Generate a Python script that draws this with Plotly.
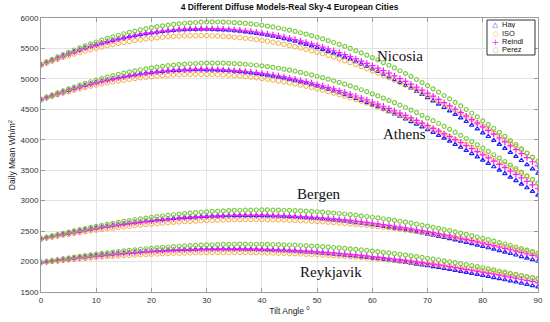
import plotly.graph_objects as go

# Tilt angles (degrees)
tilt_angles = list(range(0, 91))

# ---- Nicosia ----
nicosia_hay = [5230, 5269, 5306, 5343, 5378, 5411, 5444, 5474, 5504, 5532, 5559, 5585, 5609, 5633, 5655, 5675, 5694, 5711, 5728, 5743,
               5756, 5768, 5779, 5788, 5797, 5803, 5808, 5812, 5814, 5816, 5815, 5813, 5809, 5805, 5799, 5791, 5782, 5772, 5760, 5748,
               5733, 5717, 5700, 5681, 5662, 5640, 5618, 5593, 5568, 5541, 5513, 5484, 5453, 5422, 5389, 5354, 5319, 5282, 5243, 5204,
               5163, 5122, 5079, 5034, 4989, 4942, 4895, 4846, 4796, 4745, 4692, 4640, 4586, 4530, 4474, 4416, 4359, 4300, 4239, 4178,
               4115, 4054, 3990, 3926, 3860, 3793, 3727, 3660, 3591, 3522, 3450]
nicosia_reindl = [5232, 5271, 5308, 5343, 5378, 5411, 5444, 5475, 5504, 5533, 5560, 5586, 5610, 5634, 5656, 5676, 5696, 5714, 5730, 5746,
                  5760, 5773, 5784, 5793, 5802, 5809, 5815, 5819, 5823, 5825, 5825, 5824, 5822, 5818, 5814, 5807, 5799, 5790, 5779, 5768,
                  5754, 5740, 5724, 5706, 5688, 5668, 5647, 5624, 5601, 5576, 5549, 5522, 5493, 5462, 5431, 5398, 5365, 5330, 5293, 5256,
                  5217, 5178, 5136, 5094, 5050, 5005, 4960, 4913, 4866, 4817, 4766, 4716, 4664, 4611, 4557, 4501, 4446, 4389, 4332, 4273,
                  4212, 4153, 4092, 4029, 3966, 3901, 3838, 3773, 3706, 3639, 3570]
nicosia_iso = [5228, 5261, 5293, 5323, 5353, 5380, 5408, 5434, 5458, 5482, 5504, 5526, 5546, 5565, 5583, 5599, 5615, 5630, 5643, 5656,
               5666, 5676, 5684, 5692, 5698, 5702, 5706, 5709, 5710, 5711, 5709, 5707, 5703, 5699, 5693, 5685, 5677, 5668, 5657, 5646,
               5632, 5618, 5603, 5586, 5569, 5549, 5530, 5509, 5486, 5463, 5438, 5413, 5386, 5358, 5329, 5298, 5268, 5235, 5202, 5167,
               5131, 5096, 5058, 5020, 4980, 4939, 4899, 4857, 4813, 4769, 4723, 4678, 4631, 4584, 4535, 4484, 4435, 4384, 4332, 4279,
               4224, 4171, 4116, 4061, 4004, 3945, 3889, 3831, 3772, 3712, 3650]
nicosia_perez = [5235, 5278, 5320, 5360, 5400, 5437, 5474, 5509, 5542, 5575, 5606, 5636, 5664, 5691, 5717, 5741, 5764, 5785, 5805, 5824,
                 5841, 5857, 5871, 5883, 5895, 5905, 5914, 5921, 5926, 5931, 5934, 5935, 5934, 5933, 5930, 5925, 5919, 5911, 5903, 5893,
                 5881, 5868, 5853, 5836, 5819, 5800, 5780, 5758, 5734, 5710, 5684, 5657, 5628, 5598, 5567, 5534, 5500, 5464, 5428, 5390,
                 5350, 5310, 5268, 5224, 5180, 5134, 5088, 5040, 4990, 4940, 4888, 4836, 4782, 4727, 4671, 4613, 4556, 4497, 4436, 4375,
                 4312, 4250, 4186, 4121, 4055, 3987, 3921, 3852, 3783, 3712, 3640]

# ---- Athens ----
athens_hay = [4660, 4694, 4725, 4756, 4785, 4813, 4841, 4867, 4893, 4917, 4939, 4961, 4982, 5001, 5020, 5036, 5053, 5067, 5081, 5093,
              5104, 5114, 5123, 5130, 5137, 5141, 5146, 5148, 5150, 5150, 5149, 5148, 5144, 5140, 5134, 5127, 5119, 5110, 5099, 5088,
              5074, 5061, 5045, 5029, 5011, 4992, 4973, 4951, 4929, 4905, 4880, 4855, 4828, 4801, 4772, 4741, 4711, 4678, 4645, 4610,
              4574, 4539, 4501, 4463, 4423, 4382, 4342, 4299, 4256, 4211, 4165, 4120, 4073, 4026, 3977, 3926, 3877, 3826, 3773, 3720,
              3665, 3612, 3557, 3502, 3445, 3386, 3330, 3272, 3212, 3152, 3090]
athens_reindl = [4660, 4693, 4725, 4755, 4785, 4812, 4840, 4866, 4891, 4915, 4937, 4959, 4980, 4999, 5018, 5034, 5051, 5066, 5079, 5092,
                 5103, 5114, 5123, 5132, 5139, 5144, 5149, 5152, 5155, 5156, 5155, 5154, 5152, 5148, 5144, 5137, 5131, 5122, 5113, 5102,
                 5090, 5078, 5064, 5048, 5032, 5014, 4996, 4976, 4956, 4934, 4910, 4887, 4861, 4835, 4807, 4778, 4749, 4719, 4687, 4655,
                 4620, 4587, 4551, 4515, 4477, 4438, 4400, 4359, 4318, 4275, 4231, 4188, 4143, 4098, 4051, 4002, 3955, 3906, 3857, 3806,
                 3753, 3702, 3650, 3596, 3542, 3485, 3431, 3375, 3318, 3260, 3200]
athens_iso = [4660, 4689, 4716, 4743, 4768, 4791, 4815, 4838, 4859, 4880, 4898, 4917, 4935, 4951, 4967, 4980, 4994, 5007, 5018, 5029,
              5037, 5046, 5054, 5060, 5066, 5069, 5073, 5075, 5076, 5076, 5074, 5073, 5070, 5065, 5060, 5053, 5047, 5038, 5029, 5018,
              5006, 4995, 4981, 4967, 4951, 4934, 4918, 4899, 4880, 4859, 4837, 4816, 4792, 4768, 4742, 4715, 4689, 4661, 4633, 4603,
              4571, 4541, 4508, 4475, 4440, 4404, 4369, 4333, 4295, 4257, 4216, 4177, 4137, 4095, 4053, 4008, 3966, 3922, 3877, 3831,
              3783, 3738, 3690, 3642, 3592, 3541, 3493, 3443, 3391, 3339, 3285]
athens_perez = [4662, 4700, 4735, 4770, 4803, 4835, 4867, 4897, 4925, 4953, 4979, 5005, 5029, 5053, 5075, 5095, 5115, 5133, 5150, 5166,
                5180, 5194, 5206, 5217, 5227, 5235, 5243, 5249, 5253, 5257, 5259, 5260, 5260, 5258, 5256, 5251, 5246, 5240, 5232, 5224,
                5213, 5202, 5189, 5175, 5160, 5143, 5126, 5107, 5087, 5066, 5043, 5020, 4995, 4969, 4942, 4913, 4884, 4854, 4822, 4790,
                4755, 4721, 4685, 4647, 4609, 4569, 4530, 4488, 4446, 4402, 4357, 4313, 4267, 4219, 4171, 4121, 4072, 4021, 3970, 3917,
                3862, 3809, 3754, 3699, 3642, 3583, 3526, 3468, 3408, 3348, 3285]

# ---- Bergen ----
bergen_hay = [2375, 2395, 2413, 2432, 2450, 2468, 2485, 2501, 2518, 2534, 2549, 2564, 2578, 2591, 2605, 2618, 2630, 2641, 2651, 2662,
              2672, 2681, 2690, 2698, 2707, 2714, 2720, 2726, 2731, 2737, 2741, 2745, 2747, 2750, 2752, 2754, 2755, 2755, 2754, 2754,
              2753, 2751, 2748, 2744, 2741, 2737, 2732, 2726, 2720, 2714, 2707, 2699, 2690, 2682, 2673, 2663, 2652, 2641, 2629, 2618,
              2605, 2592, 2578, 2564, 2550, 2535, 2519, 2502, 2486, 2469, 2451, 2433, 2414, 2395, 2376, 2356, 2336, 2314, 2293, 2271,
              2249, 2227, 2203, 2180, 2156, 2132, 2108, 2082, 2057, 2031, 2005]
bergen_reindl = [2375, 2394, 2413, 2431, 2450, 2467, 2484, 2500, 2516, 2532, 2547, 2562, 2575, 2589, 2602, 2615, 2627, 2638, 2649, 2660,
                 2670, 2680, 2688, 2697, 2705, 2713, 2720, 2726, 2731, 2737, 2742, 2746, 2749, 2752, 2755, 2757, 2758, 2759, 2759, 2760,
                 2759, 2758, 2755, 2753, 2750, 2747, 2743, 2738, 2733, 2728, 2722, 2715, 2708, 2700, 2693, 2684, 2675, 2664, 2654, 2643,
                 2632, 2620, 2607, 2594, 2581, 2567, 2553, 2538, 2522, 2507, 2491, 2474, 2456, 2439, 2421, 2402, 2383, 2363, 2344, 2324,
                 2303, 2282, 2260, 2239, 2217, 2194, 2171, 2147, 2124, 2100, 2075]
bergen_iso = [2372, 2388, 2403, 2419, 2434, 2448, 2462, 2475, 2489, 2502, 2514, 2526, 2537, 2549, 2560, 2570, 2580, 2589, 2599, 2608,
              2616, 2624, 2631, 2638, 2645, 2651, 2657, 2662, 2666, 2671, 2675, 2679, 2681, 2684, 2686, 2688, 2689, 2689, 2690, 2690,
              2689, 2688, 2686, 2685, 2683, 2680, 2677, 2673, 2668, 2664, 2659, 2654, 2647, 2641, 2634, 2627, 2619, 2611, 2602, 2594,
              2584, 2574, 2564, 2553, 2543, 2531, 2519, 2507, 2494, 2482, 2468, 2454, 2440, 2425, 2411, 2395, 2380, 2363, 2347, 2330,
              2313, 2296, 2278, 2260, 2242, 2223, 2204, 2185, 2165, 2146, 2125]
bergen_perez = [2378, 2400, 2422, 2443, 2465, 2485, 2505, 2524, 2542, 2561, 2579, 2596, 2612, 2628, 2644, 2659, 2673, 2687, 2700, 2714,
                2726, 2738, 2748, 2759, 2769, 2779, 2788, 2795, 2803, 2810, 2817, 2823, 2827, 2832, 2836, 2840, 2843, 2844, 2846, 2847,
                2848, 2848, 2846, 2845, 2843, 2841, 2837, 2833, 2828, 2824, 2818, 2812, 2804, 2797, 2789, 2781, 2771, 2761, 2750, 2740,
                2728, 2716, 2703, 2689, 2676, 2662, 2647, 2631, 2614, 2598, 2581, 2563, 2545, 2526, 2508, 2488, 2468, 2446, 2425, 2403,
                2381, 2359, 2335, 2312, 2288, 2264, 2239, 2213, 2188, 2162, 2135]

# ---- Reykjavik ----
reykjavik_hay = [1985, 1998, 2010, 2022, 2034, 2045, 2056, 2067, 2077, 2088, 2097, 2106, 2114, 2123, 2131, 2138, 2145, 2152, 2158, 2165,
                 2170, 2175, 2180, 2184, 2189, 2192, 2195, 2197, 2200, 2202, 2203, 2204, 2204, 2205, 2205, 2204, 2203, 2201, 2200, 2198,
                 2195, 2192, 2188, 2184, 2180, 2175, 2170, 2164, 2159, 2153, 2146, 2139, 2131, 2123, 2115, 2106, 2097, 2087, 2078, 2068,
                 2057, 2046, 2034, 2023, 2011, 1998, 1986, 1972, 1959, 1945, 1931, 1917, 1902, 1886, 1871, 1855, 1839, 1823, 1806, 1790,
                 1772, 1755, 1737, 1719, 1701, 1682, 1664, 1644, 1625, 1605, 1585]
reykjavik_reindl = [1985, 1998, 2010, 2021, 2033, 2044, 2055, 2065, 2075, 2085, 2094, 2103, 2111, 2120, 2128, 2135, 2143, 2149, 2156, 2162,
                    2168, 2174, 2178, 2183, 2187, 2191, 2195, 2197, 2200, 2202, 2204, 2206, 2207, 2207, 2208, 2208, 2208, 2207, 2205, 2204,
                    2202, 2200, 2197, 2193, 2190, 2186, 2182, 2177, 2172, 2167, 2161, 2155, 2148, 2142, 2135, 2127, 2119, 2110, 2102, 2093,
                    2083, 2074, 2063, 2053, 2042, 2031, 2020, 2008, 1996, 1984, 1971, 1958, 1944, 1931, 1917, 1902, 1888, 1873, 1857, 1842,
                    1826, 1811, 1794, 1778, 1761, 1744, 1727, 1709, 1692, 1674, 1655]
reykjavik_iso = [1983, 1993, 2002, 2011, 2020, 2028, 2037, 2044, 2052, 2059, 2066, 2073, 2079, 2086, 2092, 2097, 2103, 2108, 2112, 2117,
                 2121, 2125, 2129, 2132, 2136, 2138, 2141, 2143, 2145, 2147, 2148, 2149, 2150, 2150, 2151, 2150, 2150, 2149, 2148, 2147,
                 2145, 2143, 2141, 2138, 2136, 2132, 2129, 2125, 2121, 2117, 2112, 2108, 2102, 2097, 2091, 2085, 2079, 2072, 2066, 2059,
                 2051, 2044, 2036, 2028, 2020, 2011, 2003, 1993, 1984, 1974, 1964, 1954, 1944, 1933, 1923, 1911, 1900, 1888, 1877, 1865,
                 1852, 1840, 1827, 1815, 1802, 1788, 1775, 1762, 1748, 1735, 1720]
reykjavik_perez = [1985, 2001, 2015, 2030, 2044, 2058, 2072, 2084, 2097, 2109, 2121, 2133, 2144, 2154, 2165, 2175, 2185, 2193, 2202, 2210,
                   2218, 2226, 2232, 2239, 2245, 2251, 2256, 2261, 2265, 2270, 2273, 2276, 2278, 2281, 2283, 2284, 2285, 2285, 2284, 2284,
                   2283, 2282, 2280, 2277, 2275, 2272, 2269, 2264, 2260, 2255, 2250, 2244, 2237, 2231, 2224, 2216, 2208, 2199, 2191, 2182,
                   2172, 2162, 2151, 2141, 2130, 2118, 2106, 2093, 2081, 2068, 2054, 2040, 2026, 2011, 1997, 1981, 1965, 1949, 1932, 1916,
                   1898, 1881, 1863, 1845, 1827, 1808, 1789, 1770, 1750, 1731, 1710]

model_names = ["Hay", "ISO", "Reindl", "Perez"]
legend_glyphs = ["\u25B3", "\u25CB", "+", "\u25CB"]
city_labels = ["Nicosia", "Athens", "Bergen", "Reykjavik"]
x_ticks = [0, 10, 20, 30, 40, 50, 60, 70, 80, 90]
y_ticks = [1500, 2000, 2500, 3000, 3500, 4000, 4500, 5000, 5500, 6000]

series_by_model = {
    "Hay": [nicosia_hay, athens_hay, bergen_hay, reykjavik_hay],
    "ISO": [nicosia_iso, athens_iso, bergen_iso, reykjavik_iso],
    "Reindl": [nicosia_reindl, athens_reindl, bergen_reindl, reykjavik_reindl],
    "Perez": [nicosia_perez, athens_perez, bergen_perez, reykjavik_perez],
}

model_colors = {"Hay": "#1f1fff", "ISO": "#f5ad3a", "Reindl": "#ff1aff", "Perez": "#7acb42"}
marker_styles = {
    "Hay": dict(symbol="triangle-up-open", size=4, line=dict(width=1.2)),
    "ISO": dict(symbol="circle-open", size=4.5, line=dict(width=1.0)),
    "Reindl": dict(symbol="cross-thin-open", size=4.5, line=dict(width=1.2)),
    "Perez": dict(symbol="circle-open", size=4, line=dict(width=1.2)),
}

FONT = "Liberation Sans, Arial, Helvetica, sans-serif"

fig = go.Figure()
for name in model_names:
    xs, ys = [], []
    for vals in series_by_model[name]:
        xs.extend(tilt_angles[:len(vals)])
        ys.extend(vals)
    st = dict(marker_styles[name])
    st["color"] = model_colors[name]
    st["line"] = dict(st["line"], color=model_colors[name])
    fig.add_trace(go.Scatter(x=xs, y=ys, mode="markers", name=name, marker=st, showlegend=False,
                             hoverinfo="skip"))

# City labels
label_pos = {"Nicosia": (65.0, 5380), "Athens": (65.8, 4100), "Bergen": (50.4, 3110), "Reykjavik": (52.5, 1830)}
for city in city_labels:
    x, y = label_pos[city]
    fig.add_annotation(x=x, y=y, text=city, showarrow=False, xref="x", yref="y",
                       font=dict(family="Liberation Serif, Times New Roman, serif", size=15, color="#111111"))

# Compact legend box (top-right, inside axes)
plot_w, plot_h = 497.0, 274.0
lx0, lx1 = (487 - 41) / plot_w, (535 - 41) / plot_w
ly_top, ly_bot = 1 - (20 - 18) / plot_h, 1 - (55 - 18) / plot_h
fig.add_shape(type="rect", xref="paper", yref="paper", x0=lx0, x1=lx1, y0=ly_bot, y1=ly_top,
              line=dict(color="#333333", width=1), fillcolor="white", layer="above")
row_px = [24.8, 33.1, 41.4, 49.7]
for name, glyph, py in zip(model_names, legend_glyphs, row_px):
    yy = 1 - (py - 18) / plot_h
    fig.add_annotation(x=(495 - 41) / plot_w, y=yy, xref="paper", yref="paper", text=glyph, showarrow=False,
                       xanchor="center", yanchor="middle", borderpad=0, height=7, width=7,
                       font=dict(family="DejaVu Sans, sans-serif", size=7 if glyph != "+" else 9,
                                 color=model_colors[name]))
    fig.add_annotation(x=(501 - 41) / plot_w, y=yy, xref="paper", yref="paper", text=name, showarrow=False,
                       xanchor="left", yanchor="middle", borderpad=0, height=7, align="left",
                       font=dict(family=FONT, size=7.5, color="#111111"))

axis_common = dict(showgrid=True, gridcolor="#e3e3e3", gridwidth=1, zeroline=False,
                   showline=True, linecolor="#9a9a9a", linewidth=1, mirror="ticks",
                   ticks="inside", ticklen=4, tickcolor="#9a9a9a", automargin=False,
                   tickfont=dict(family=FONT, size=8, color="#333333"))

fig.update_layout(
    width=550, height=322,
    margin=dict(l=41, r=12, t=18, b=30),
    paper_bgcolor="white", plot_bgcolor="white",
    font=dict(family=FONT, size=9, color="#222222"),
    title=dict(text="<b>4 Different Diffuse Models-Real Sky-4 European Cities</b>",
               x=0.5, xref="paper", xanchor="center", y=0.978, yref="container", yanchor="middle",
               font=dict(family=FONT, size=8.5, color="#111111")),
    xaxis=dict(range=[0, 90], tickmode="array", tickvals=x_ticks,
               title=dict(text="Tilt Angle <sup>0</sup>", font=dict(family=FONT, size=8.5, color="#222222"), standoff=4),
               **axis_common),
    yaxis=dict(range=[1500, 6000], tickmode="array", tickvals=y_ticks,
               title=dict(text="Daily Mean Wh/m<sup>2</sup>", font=dict(family=FONT, size=8.5, color="#222222"), standoff=3),
               **axis_common),
    showlegend=False,
    hovermode=False,
)

fig.write_html("out.html", config={"displayModeBar": False, "staticPlot": True},
               post_script="document.body.style.margin='0px';document.body.style.padding='0px';")
